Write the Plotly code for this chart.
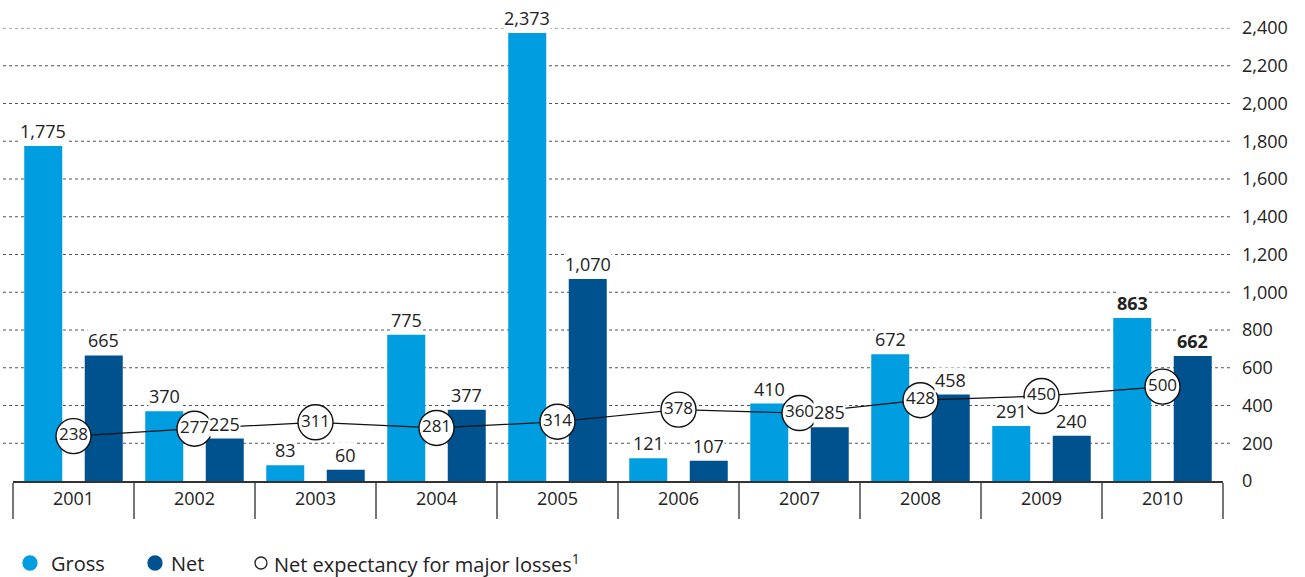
import plotly.graph_objects as go

years = ["2001", "2002", "2003", "2004", "2005", "2006", "2007", "2008", "2009", "2010"]
gross = [1775, 370, 83, 775, 2373, 121, 410, 672, 291, 863]
net = [665, 225, 60, 377, 1070, 107, 285, 458, 240, 662]
expectancy = [238, 277, 311, 281, 314, 378, 360, 428, 450, 500]
y_ticks = list(range(0, 2401, 200))

GROSS_COLOR = "#009ee0"
NET_COLOR = "#00528f"
TEXT = "#222222"
FONT = "Open Sans"

W, H = 1305, 577
L, R, T, B = 13, 82, 28, 96
plot_w = W - L - R
plot_h = H - T - B
cat_w = plot_w / len(years)
BARGAP = 0.0
slot = cat_w * (1 - BARGAP) / 2

fig = go.Figure()
fig.add_trace(go.Bar(x=years, y=gross, name="Gross", marker=dict(color=GROSS_COLOR, line_width=0)))
fig.add_trace(go.Bar(x=years, y=net, name="Net", marker=dict(color=NET_COLOR, line_width=0)))
fig.add_trace(
    go.Scatter(
        x=years,
        y=expectancy,
        mode="lines+markers+text",
        name="Net expectancy for major losses",
        text=[str(v) for v in expectancy],
        textposition="middle center",
        textfont=dict(family=FONT, size=17, color=TEXT),
        line=dict(color="#111111", width=1.2),
        marker=dict(size=35, color="white", line=dict(color="#111111", width=1.4)),
        cliponaxis=False,
    )
)

# dotted gridlines, a little wider than the plot area
for v in y_ticks[1:]:
    fig.add_shape(
        type="line", xref="paper", yref="y", x0=-10 / plot_w, x1=1 + 9 / plot_w, y0=v, y1=v,
        line=dict(color="#555555", width=1, dash="dot"), layer="below",
    )

# value labels on white boxes (they break the gridlines)
annotations = []
for i, yr in enumerate(years):
    bold = yr == "2010"
    for vals, sh in ((gross, -slot / 2), (net, slot / 2)):
        v = vals[i]
        txt = f"{v:,}"
        annotations.append(dict(
            x=i, y=v, xref="x", yref="y", xshift=sh, yshift=2,
            yanchor="bottom", showarrow=False,
            text=f"<b>{txt}</b>" if bold else txt,
            font=dict(family=FONT, size=18, color=TEXT),
            bgcolor="white", borderpad=0,
        ))

# legend row
legend_y = 1 - (563 - T) / plot_h
items = [(30, 19, GROSS_COLOR, None, "Gross"), (155, 14, NET_COLOR, None, "Net"),
         (261, 11, "white", "#222222", "Net expectancy for major losses<sup>1</sup>")]
for cx, gap, fill, edge, label in items:
    px = (cx - L) / plot_w
    r = 7 if edge is None else 6
    fig.add_shape(
        type="circle", xref="paper", yref="paper",
        x0=px - r / plot_w, x1=px + r / plot_w,
        y0=legend_y - r / plot_h, y1=legend_y + r / plot_h,
        fillcolor=fill, line=dict(color=edge or fill, width=1.3),
    )
    annotations.append(dict(
        x=px + gap / plot_w, y=legend_y, xref="paper", yref="paper",
        xanchor="left", yanchor="middle", showarrow=False, text=label,
        font=dict(family=FONT, size=20, color=TEXT),
    ))

fig.update_layout(
    width=W, height=H,
    margin=dict(l=L, r=R, t=T, b=B, autoexpand=False),
    barmode="group", bargap=BARGAP, bargroupgap=0.372,
    plot_bgcolor="white", paper_bgcolor="white",
    showlegend=False,
    font=dict(family=FONT, size=17, color=TEXT),
    annotations=annotations,
    xaxis=dict(
        type="category", categoryorder="array", categoryarray=years,
        range=[-0.5, len(years) - 0.5], autorange=False,
        showgrid=False, zeroline=False,
        showline=True, linecolor="#333333", linewidth=1.5,
        ticks="outside", tickson="boundaries", ticklen=36, tickcolor="#777777", tickwidth=1.5,
        ticklabelstandoff=1, tickangle=0, automargin=False,
        tickfont=dict(family=FONT, size=18, color=TEXT),
    ),
    yaxis=dict(
        side="right", range=[0, 2400], autorange=False, tickvals=y_ticks, tickformat=",",
        showgrid=False, zeroline=False, showline=False,
        ticklabelstandoff=18, automargin=False,
        tickfont=dict(family=FONT, size=18, color=TEXT),
    ),
)

fig.write_html("out.html", config={"displayModeBar": False},
               post_script="document.body.style.margin='0';")
